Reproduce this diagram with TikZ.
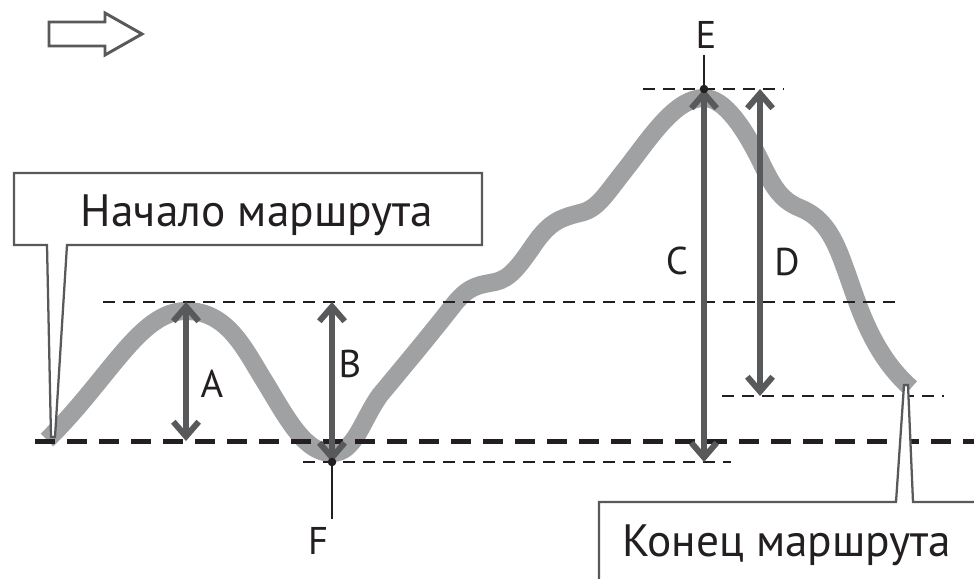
\documentclass[tikz,border=0pt]{standalone}
\usepackage{fontspec}
\setmainfont{PT Sans}
\usetikzlibrary{arrows.meta}
\definecolor{curvegray}{HTML}{A0A1A3}
\definecolor{arrgray}{HTML}{58595B}
\definecolor{ink}{HTML}{231F20}
\begin{document}
\begin{tikzpicture}[x=0.75pt,y=-0.75pt,
  route/.style={draw=curvegray, line width=13.5pt, line cap=butt, line join=round},
  thickdash/.style={draw=ink, line width=3.75pt, dash pattern=on 15pt off 9pt},
  thindash/.style={draw=ink, line width=1.5pt, dash pattern=on 9pt off 6pt},
  dimarrow/.style={draw=arrgray, line width=4.5pt,
    {Straight Barb[length=11pt,width=19pt]}-{Straight Barb[length=11pt,width=19pt]}},
  lbl/.style={font=\fontsize{29}{30}\selectfont, text=ink, inner sep=0pt, anchor=base},
  calltext/.style={font=\fontsize{34}{36}\selectfont, text=ink, inner sep=0pt, anchor=base},
  callout/.style={draw=arrgray, fill=white, line width=1.7pt, line join=miter},
  pin/.style={draw=ink, line width=2.2pt},
  hollow/.style={draw=arrgray, line width=2.2pt, line join=miter}]
\useasboundingbox (0,0) rectangle (974,578);

% direction arrow
\draw[hollow] (49,22) -- (105,22) -- (105,13) -- (142,34) -- (105,55) -- (105,46) -- (49,46) -- cycle;

% route
\draw[route] (47,440) .. controls (110,378) and (140,311) .. (186,311)
 .. controls (228,311) and (245,350) .. (265,382)
 .. controls (288,420) and (305,453) .. (332,453)
 .. controls (355,453) and (362,420) .. (380,395)
 .. controls (405,365) and (430,335) .. (455,303)
 .. controls (470,285) and (480,285) .. (495,282)
 .. controls (510,279) and (520,265) .. (535,243)
 .. controls (550,222) and (560,218) .. (580,213)
 .. controls (598,209) and (605,195) .. (625,170)
 .. controls (650,138) and (675,98) .. (704,98)
 .. controls (725,98) and (745,130) .. (760,160)
 .. controls (772,185) and (780,200) .. (800,208)
 .. controls (825,218) and (835,240) .. (845,268)
 .. controls (857,300) and (870,352) .. (911,388);

% key coordinates
\coordinate (Abot) at (186,441);
\coordinate (Atop) at (186,302);
\coordinate (F) at (332,462);
\coordinate (Btop) at (332,302);
\coordinate (E) at (704,89);
\coordinate (Cbot) at (704,462);
\coordinate (Dtop) at (760,89);
\coordinate (Dbot) at (760,396);
\coordinate (Etop) at (704,55);
\coordinate (Fbot) at (332,519);

% reference lines
\draw[thickdash] (35,441) -- (974,441);
\draw[thindash] (103,302) -- (897,302);
\draw[thindash] (643,89) -- (784,89);
\draw[thindash] (722,396) -- (944,396);
\draw[thindash] (303,462) -- (731,462);

% dimension arrows
\draw[dimarrow] (Abot) -- (Atop);
\draw[dimarrow] (F) -- (Btop);
\draw[dimarrow] (Cbot) -- (E);
\draw[dimarrow] (Dbot) -- (Dtop);

% pins
\draw[pin] (Etop) -- (E);
\draw[pin] (Fbot) -- (F);
\fill[ink] (E) circle (3.2pt);
\fill[ink] (F) circle (3.2pt);

% callouts
\draw[callout] (14,173) -- (482,173) -- (482,245) -- (67,245) -- (55,437) -- (51,437) -- (47,245) -- (14,245) -- cycle;
\node[calltext] (start) at (257,226) {Начало маршрута};
\draw[callout] (599,600) -- (599,502) -- (896,502) -- (904,385) -- (908,385) -- (913,502) -- (1000,502) -- (1000,600) -- cycle;
\node[calltext] (finish) at (787,556) {Конец маршрута};

% labels
\node[lbl] (la) at (212,397) {A};
\node[lbl] (lb) at (350,377) {B};
\node[lbl] (lc) at (677,274) {C};
\node[lbl] (ld) at (787,275) {D};
\node[lbl] (le) at (706,48) {E};
\node[lbl] (lf) at (318,554) {F};
\end{tikzpicture}
\end{document}
